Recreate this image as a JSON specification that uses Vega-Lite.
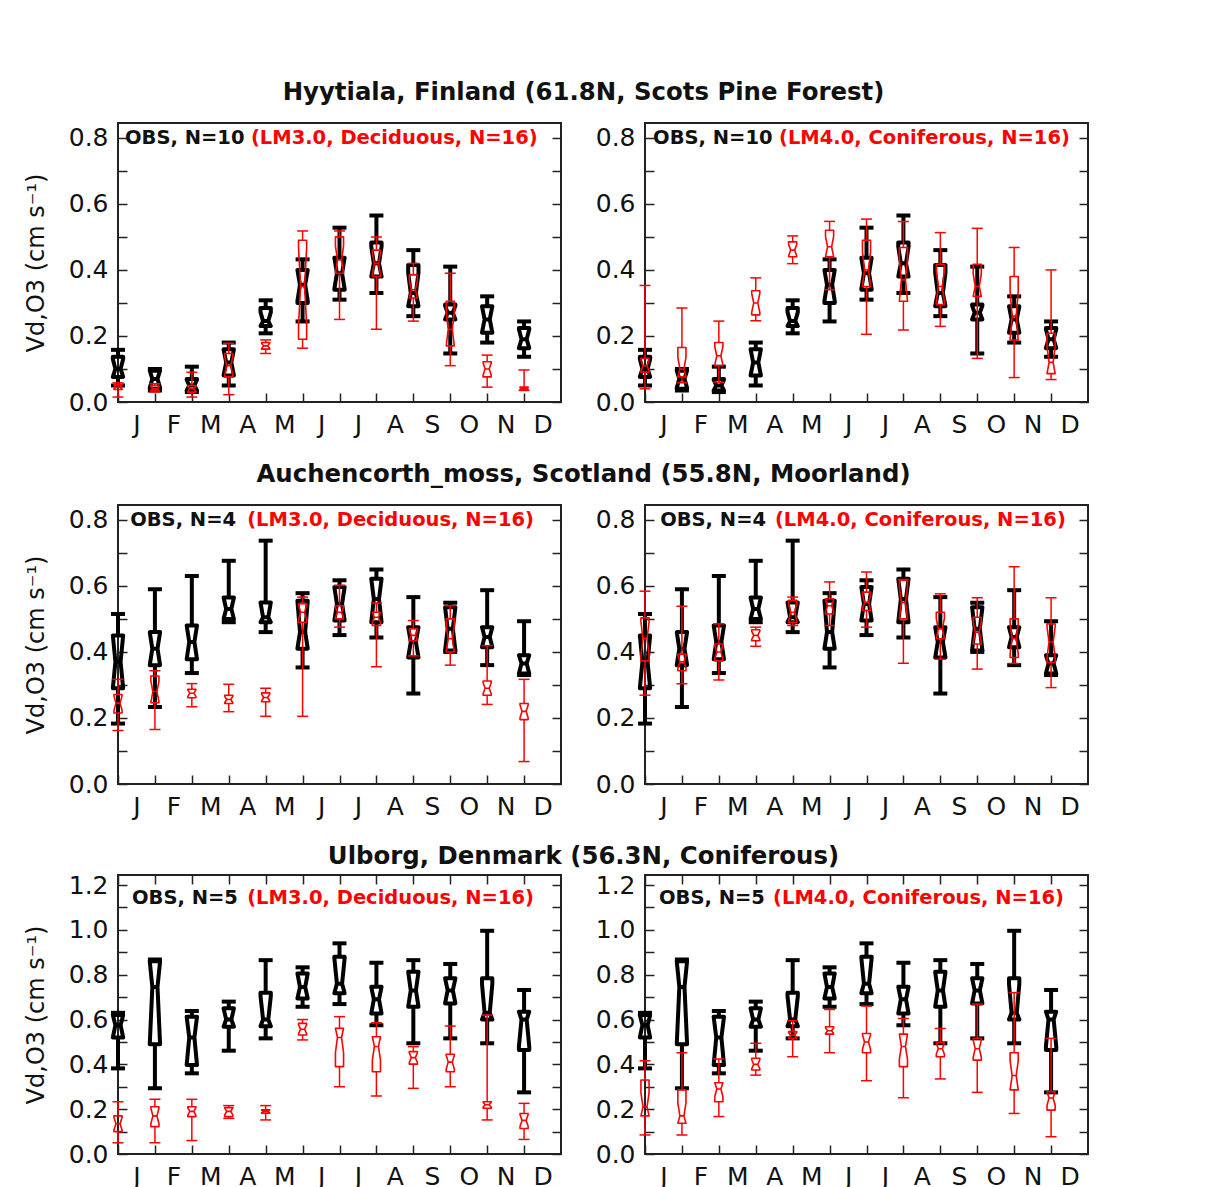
{
  "$schema": "https://vega.github.io/schema/vega-lite/v6.json",
  "padding": {"left": 23, "top": 79, "right": 0, "bottom": 0},
  "background": "white",
  "config": {
    "view": {"stroke": "#222", "strokeWidth": 2},
    "font": "DejaVu Sans",
    "title": {"font": "DejaVu Sans", "fontSize": 24.4, "fontWeight": "bold", "color": "#111", "anchor": "middle", "offset": 17, "dx": 27},
    "tick": {"opacity": 1}
  },
  "datasets": {
    "boxes": [
      {"site": "H", "s": "OBS", "n": 10, "m": 1, "lo": 0.05, "q1": 0.076, "med": 0.10, "q3": 0.137, "hi": 0.158},
      {"site": "H", "s": "OBS", "n": 10, "m": 2, "lo": 0.035, "q1": 0.04, "med": 0.07, "q3": 0.095, "hi": 0.10},
      {"site": "H", "s": "OBS", "n": 10, "m": 3, "lo": 0.03, "q1": 0.035, "med": 0.05, "q3": 0.07, "hi": 0.107},
      {"site": "H", "s": "OBS", "n": 10, "m": 4, "lo": 0.05, "q1": 0.08, "med": 0.12, "q3": 0.16, "hi": 0.18},
      {"site": "H", "s": "OBS", "n": 10, "m": 5, "lo": 0.208, "q1": 0.23, "med": 0.245, "q3": 0.285, "hi": 0.308},
      {"site": "H", "s": "OBS", "n": 10, "m": 6, "lo": 0.244, "q1": 0.30, "med": 0.355, "q3": 0.40, "hi": 0.432},
      {"site": "H", "s": "OBS", "n": 10, "m": 7, "lo": 0.31, "q1": 0.34, "med": 0.39, "q3": 0.437, "hi": 0.528},
      {"site": "H", "s": "OBS", "n": 10, "m": 8, "lo": 0.33, "q1": 0.38, "med": 0.42, "q3": 0.483, "hi": 0.565},
      {"site": "H", "s": "OBS", "n": 10, "m": 9, "lo": 0.26, "q1": 0.29, "med": 0.33, "q3": 0.415, "hi": 0.46},
      {"site": "H", "s": "OBS", "n": 10, "m": 10, "lo": 0.147, "q1": 0.25, "med": 0.27, "q3": 0.295, "hi": 0.41},
      {"site": "H", "s": "OBS", "n": 10, "m": 11, "lo": 0.18, "q1": 0.21, "med": 0.25, "q3": 0.29, "hi": 0.32},
      {"site": "H", "s": "OBS", "n": 10, "m": 12, "lo": 0.137, "q1": 0.163, "med": 0.19, "q3": 0.224, "hi": 0.244},

      {"site": "H", "s": "LM3.0", "n": 16, "m": 1, "lo": 0.015, "q1": 0.038, "med": 0.045, "q3": 0.052, "hi": 0.058},
      {"site": "H", "s": "LM3.0", "n": 16, "m": 2, "lo": 0.03, "q1": 0.035, "med": 0.04, "q3": 0.05, "hi": 0.055},
      {"site": "H", "s": "LM3.0", "n": 16, "m": 3, "lo": 0.015, "q1": 0.03, "med": 0.04, "q3": 0.05, "hi": 0.09},
      {"site": "H", "s": "LM3.0", "n": 16, "m": 4, "lo": 0.022, "q1": 0.076, "med": 0.11, "q3": 0.147, "hi": 0.178},
      {"site": "H", "s": "LM3.0", "n": 16, "m": 5, "lo": 0.147, "q1": 0.16, "med": 0.17, "q3": 0.18, "hi": 0.188},
      {"site": "H", "s": "LM3.0", "n": 16, "m": 6, "lo": 0.163, "q1": 0.19, "med": 0.35, "q3": 0.49, "hi": 0.518},
      {"site": "H", "s": "LM3.0", "n": 16, "m": 7, "lo": 0.25, "q1": 0.39, "med": 0.43, "q3": 0.50, "hi": 0.518},
      {"site": "H", "s": "LM3.0", "n": 16, "m": 8, "lo": 0.22, "q1": 0.38, "med": 0.42, "q3": 0.46, "hi": 0.50},
      {"site": "H", "s": "LM3.0", "n": 16, "m": 9, "lo": 0.245, "q1": 0.315, "med": 0.34, "q3": 0.385, "hi": 0.42},
      {"site": "H", "s": "LM3.0", "n": 16, "m": 10, "lo": 0.11, "q1": 0.17, "med": 0.22, "q3": 0.305, "hi": 0.39},
      {"site": "H", "s": "LM3.0", "n": 16, "m": 11, "lo": 0.045, "q1": 0.076, "med": 0.10, "q3": 0.122, "hi": 0.142},
      {"site": "H", "s": "LM3.0", "n": 16, "m": 12, "lo": 0.035, "q1": 0.037, "med": 0.04, "q3": 0.045, "hi": 0.097},

      {"site": "H", "s": "LM4.0", "n": 16, "m": 1, "lo": 0.04, "q1": 0.09, "med": 0.11, "q3": 0.132, "hi": 0.353},
      {"site": "H", "s": "LM4.0", "n": 16, "m": 2, "lo": 0.058, "q1": 0.076, "med": 0.10, "q3": 0.165, "hi": 0.285},
      {"site": "H", "s": "LM4.0", "n": 16, "m": 3, "lo": 0.06, "q1": 0.11, "med": 0.14, "q3": 0.18, "hi": 0.245},
      {"site": "H", "s": "LM4.0", "n": 16, "m": 4, "lo": 0.246, "q1": 0.264, "med": 0.30, "q3": 0.337, "hi": 0.376},
      {"site": "H", "s": "LM4.0", "n": 16, "m": 5, "lo": 0.419, "q1": 0.44, "med": 0.46, "q3": 0.485, "hi": 0.503},
      {"site": "H", "s": "LM4.0", "n": 16, "m": 6, "lo": 0.34, "q1": 0.44, "med": 0.47, "q3": 0.52, "hi": 0.547},
      {"site": "H", "s": "LM4.0", "n": 16, "m": 7, "lo": 0.205, "q1": 0.35, "med": 0.40, "q3": 0.49, "hi": 0.554},
      {"site": "H", "s": "LM4.0", "n": 16, "m": 8, "lo": 0.218, "q1": 0.305, "med": 0.37, "q3": 0.468, "hi": 0.547},
      {"site": "H", "s": "LM4.0", "n": 16, "m": 9, "lo": 0.229, "q1": 0.295, "med": 0.35, "q3": 0.417, "hi": 0.513},
      {"site": "H", "s": "LM4.0", "n": 16, "m": 10, "lo": 0.132, "q1": 0.32, "med": 0.35, "q3": 0.417, "hi": 0.526},
      {"site": "H", "s": "LM4.0", "n": 16, "m": 11, "lo": 0.074, "q1": 0.188, "med": 0.26, "q3": 0.38, "hi": 0.468},
      {"site": "H", "s": "LM4.0", "n": 16, "m": 12, "lo": 0.068, "q1": 0.086, "med": 0.12, "q3": 0.208, "hi": 0.40},

      {"site": "A", "s": "OBS", "n": 4, "m": 1, "lo": 0.183, "q1": 0.29, "med": 0.37, "q3": 0.45, "hi": 0.515},
      {"site": "A", "s": "OBS", "n": 4, "m": 2, "lo": 0.233, "q1": 0.36, "med": 0.41, "q3": 0.46, "hi": 0.59},
      {"site": "A", "s": "OBS", "n": 4, "m": 3, "lo": 0.336, "q1": 0.378, "med": 0.43, "q3": 0.48, "hi": 0.63},
      {"site": "A", "s": "OBS", "n": 4, "m": 4, "lo": 0.49, "q1": 0.50, "med": 0.53, "q3": 0.565, "hi": 0.676},
      {"site": "A", "s": "OBS", "n": 4, "m": 5, "lo": 0.46, "q1": 0.49, "med": 0.505, "q3": 0.55, "hi": 0.737},
      {"site": "A", "s": "OBS", "n": 4, "m": 6, "lo": 0.353, "q1": 0.41, "med": 0.46, "q3": 0.555, "hi": 0.578},
      {"site": "A", "s": "OBS", "n": 4, "m": 7, "lo": 0.451, "q1": 0.495, "med": 0.545, "q3": 0.597, "hi": 0.617},
      {"site": "A", "s": "OBS", "n": 4, "m": 8, "lo": 0.444, "q1": 0.49, "med": 0.56, "q3": 0.622, "hi": 0.65},
      {"site": "A", "s": "OBS", "n": 4, "m": 9, "lo": 0.274, "q1": 0.383, "med": 0.43, "q3": 0.475, "hi": 0.566},
      {"site": "A", "s": "OBS", "n": 4, "m": 10, "lo": 0.40, "q1": 0.404, "med": 0.47, "q3": 0.535, "hi": 0.549},
      {"site": "A", "s": "OBS", "n": 4, "m": 11, "lo": 0.36, "q1": 0.414, "med": 0.445, "q3": 0.475, "hi": 0.587},
      {"site": "A", "s": "OBS", "n": 4, "m": 12, "lo": 0.33, "q1": 0.335, "med": 0.365, "q3": 0.39, "hi": 0.493},

      {"site": "A", "s": "LM3.0", "n": 16, "m": 1, "lo": 0.162, "q1": 0.215, "med": 0.245, "q3": 0.271, "hi": 0.317},
      {"site": "A", "s": "LM3.0", "n": 16, "m": 2, "lo": 0.165, "q1": 0.246, "med": 0.28, "q3": 0.327, "hi": 0.343},
      {"site": "A", "s": "LM3.0", "n": 16, "m": 3, "lo": 0.234, "q1": 0.261, "med": 0.275, "q3": 0.287, "hi": 0.304},
      {"site": "A", "s": "LM3.0", "n": 16, "m": 4, "lo": 0.219, "q1": 0.244, "med": 0.256, "q3": 0.269, "hi": 0.302},
      {"site": "A", "s": "LM3.0", "n": 16, "m": 5, "lo": 0.205, "q1": 0.249, "med": 0.262, "q3": 0.276, "hi": 0.29},
      {"site": "A", "s": "LM3.0", "n": 16, "m": 6, "lo": 0.205, "q1": 0.49, "med": 0.52, "q3": 0.546, "hi": 0.566},
      {"site": "A", "s": "LM3.0", "n": 16, "m": 7, "lo": 0.475, "q1": 0.50, "med": 0.52, "q3": 0.54, "hi": 0.602},
      {"site": "A", "s": "LM3.0", "n": 16, "m": 8, "lo": 0.355, "q1": 0.48, "med": 0.505, "q3": 0.52, "hi": 0.548},
      {"site": "A", "s": "LM3.0", "n": 16, "m": 9, "lo": 0.388, "q1": 0.434, "med": 0.45, "q3": 0.47, "hi": 0.495},
      {"site": "A", "s": "LM3.0", "n": 16, "m": 10, "lo": 0.36, "q1": 0.40, "med": 0.44, "q3": 0.50, "hi": 0.54},
      {"site": "A", "s": "LM3.0", "n": 16, "m": 11, "lo": 0.241, "q1": 0.269, "med": 0.29, "q3": 0.312, "hi": 0.419},
      {"site": "A", "s": "LM3.0", "n": 16, "m": 12, "lo": 0.068, "q1": 0.195, "med": 0.22, "q3": 0.244, "hi": 0.317},

      {"site": "A", "s": "LM4.0", "n": 16, "m": 1, "lo": 0.269, "q1": 0.373, "med": 0.44, "q3": 0.503, "hi": 0.584},
      {"site": "A", "s": "LM4.0", "n": 16, "m": 2, "lo": 0.304, "q1": 0.343, "med": 0.37, "q3": 0.393, "hi": 0.538},
      {"site": "A", "s": "LM4.0", "n": 16, "m": 3, "lo": 0.315, "q1": 0.373, "med": 0.40, "q3": 0.424, "hi": 0.485},
      {"site": "A", "s": "LM4.0", "n": 16, "m": 4, "lo": 0.417, "q1": 0.434, "med": 0.45, "q3": 0.467, "hi": 0.475},
      {"site": "A", "s": "LM4.0", "n": 16, "m": 5, "lo": 0.48, "q1": 0.49, "med": 0.52, "q3": 0.556, "hi": 0.566},
      {"site": "A", "s": "LM4.0", "n": 16, "m": 6, "lo": 0.48, "q1": 0.515, "med": 0.54, "q3": 0.561, "hi": 0.612},
      {"site": "A", "s": "LM4.0", "n": 16, "m": 7, "lo": 0.475, "q1": 0.526, "med": 0.55, "q3": 0.581, "hi": 0.642},
      {"site": "A", "s": "LM4.0", "n": 16, "m": 8, "lo": 0.366, "q1": 0.50, "med": 0.55, "q3": 0.617, "hi": 0.619},
      {"site": "A", "s": "LM4.0", "n": 16, "m": 9, "lo": 0.378, "q1": 0.44, "med": 0.47, "q3": 0.52, "hi": 0.576},
      {"site": "A", "s": "LM4.0", "n": 16, "m": 10, "lo": 0.348, "q1": 0.424, "med": 0.46, "q3": 0.505, "hi": 0.564},
      {"site": "A", "s": "LM4.0", "n": 16, "m": 11, "lo": 0.365, "q1": 0.383, "med": 0.44, "q3": 0.50, "hi": 0.658},
      {"site": "A", "s": "LM4.0", "n": 16, "m": 12, "lo": 0.292, "q1": 0.368, "med": 0.43, "q3": 0.485, "hi": 0.564},

      {"site": "U", "s": "OBS", "n": 5, "m": 1, "lo": 0.382, "q1": 0.52, "med": 0.575, "q3": 0.62, "hi": 0.63},
      {"site": "U", "s": "OBS", "n": 5, "m": 2, "lo": 0.293, "q1": 0.49, "med": 0.745, "q3": 0.86, "hi": 0.868},
      {"site": "U", "s": "OBS", "n": 5, "m": 3, "lo": 0.36, "q1": 0.397, "med": 0.52, "q3": 0.613, "hi": 0.638},
      {"site": "U", "s": "OBS", "n": 5, "m": 4, "lo": 0.461, "q1": 0.568, "med": 0.60, "q3": 0.65, "hi": 0.68},
      {"site": "U", "s": "OBS", "n": 5, "m": 5, "lo": 0.516, "q1": 0.57, "med": 0.60, "q3": 0.72, "hi": 0.865},
      {"site": "U", "s": "OBS", "n": 5, "m": 6, "lo": 0.657, "q1": 0.694, "med": 0.745, "q3": 0.806, "hi": 0.833},
      {"site": "U", "s": "OBS", "n": 5, "m": 7, "lo": 0.669, "q1": 0.717, "med": 0.76, "q3": 0.88, "hi": 0.94},
      {"site": "U", "s": "OBS", "n": 5, "m": 8, "lo": 0.575, "q1": 0.627, "med": 0.69, "q3": 0.746, "hi": 0.853},
      {"site": "U", "s": "OBS", "n": 5, "m": 9, "lo": 0.494, "q1": 0.657, "med": 0.73, "q3": 0.813, "hi": 0.865},
      {"site": "U", "s": "OBS", "n": 5, "m": 10, "lo": 0.516, "q1": 0.672, "med": 0.73, "q3": 0.784, "hi": 0.848},
      {"site": "U", "s": "OBS", "n": 5, "m": 11, "lo": 0.494, "q1": 0.60, "med": 0.63, "q3": 0.784, "hi": 0.996},
      {"site": "U", "s": "OBS", "n": 5, "m": 12, "lo": 0.275, "q1": 0.464, "med": 0.60, "q3": 0.635, "hi": 0.732},

      {"site": "U", "s": "LM3.0", "n": 16, "m": 1, "lo": 0.05, "q1": 0.10, "med": 0.135, "q3": 0.17, "hi": 0.233},
      {"site": "U", "s": "LM3.0", "n": 16, "m": 2, "lo": 0.05, "q1": 0.122, "med": 0.17, "q3": 0.211, "hi": 0.244},
      {"site": "U", "s": "LM3.0", "n": 16, "m": 3, "lo": 0.06, "q1": 0.167, "med": 0.19, "q3": 0.211, "hi": 0.244},
      {"site": "U", "s": "LM3.0", "n": 16, "m": 4, "lo": 0.159, "q1": 0.167, "med": 0.19, "q3": 0.207, "hi": 0.216},
      {"site": "U", "s": "LM3.0", "n": 16, "m": 5, "lo": 0.152, "q1": 0.182, "med": 0.19, "q3": 0.197, "hi": 0.216},
      {"site": "U", "s": "LM3.0", "n": 16, "m": 6, "lo": 0.509, "q1": 0.531, "med": 0.557, "q3": 0.583, "hi": 0.60},
      {"site": "U", "s": "LM3.0", "n": 16, "m": 7, "lo": 0.30, "q1": 0.39, "med": 0.52, "q3": 0.561, "hi": 0.613},
      {"site": "U", "s": "LM3.0", "n": 16, "m": 8, "lo": 0.259, "q1": 0.367, "med": 0.48, "q3": 0.523, "hi": 0.586},
      {"site": "U", "s": "LM3.0", "n": 16, "m": 9, "lo": 0.293, "q1": 0.401, "med": 0.43, "q3": 0.457, "hi": 0.479},
      {"site": "U", "s": "LM3.0", "n": 16, "m": 10, "lo": 0.30, "q1": 0.367, "med": 0.41, "q3": 0.445, "hi": 0.571},
      {"site": "U", "s": "LM3.0", "n": 16, "m": 11, "lo": 0.152, "q1": 0.204, "med": 0.22, "q3": 0.233, "hi": 0.62},
      {"site": "U", "s": "LM3.0", "n": 16, "m": 12, "lo": 0.065, "q1": 0.114, "med": 0.15, "q3": 0.181, "hi": 0.226},

      {"site": "U", "s": "LM4.0", "n": 16, "m": 1, "lo": 0.085, "q1": 0.17, "med": 0.21, "q3": 0.33, "hi": 0.416},
      {"site": "U", "s": "LM4.0", "n": 16, "m": 2, "lo": 0.085, "q1": 0.137, "med": 0.17, "q3": 0.286, "hi": 0.452},
      {"site": "U", "s": "LM4.0", "n": 16, "m": 3, "lo": 0.167, "q1": 0.233, "med": 0.29, "q3": 0.318, "hi": 0.424},
      {"site": "U", "s": "LM4.0", "n": 16, "m": 4, "lo": 0.352, "q1": 0.375, "med": 0.40, "q3": 0.427, "hi": 0.494},
      {"site": "U", "s": "LM4.0", "n": 16, "m": 5, "lo": 0.434, "q1": 0.516, "med": 0.53, "q3": 0.546, "hi": 0.595},
      {"site": "U", "s": "LM4.0", "n": 16, "m": 6, "lo": 0.452, "q1": 0.535, "med": 0.55, "q3": 0.568, "hi": 0.645},
      {"site": "U", "s": "LM4.0", "n": 16, "m": 7, "lo": 0.327, "q1": 0.452, "med": 0.50, "q3": 0.538, "hi": 0.66},
      {"site": "U", "s": "LM4.0", "n": 16, "m": 8, "lo": 0.251, "q1": 0.39, "med": 0.48, "q3": 0.535, "hi": 0.605},
      {"site": "U", "s": "LM4.0", "n": 16, "m": 9, "lo": 0.335, "q1": 0.434, "med": 0.47, "q3": 0.497, "hi": 0.56},
      {"site": "U", "s": "LM4.0", "n": 16, "m": 10, "lo": 0.275, "q1": 0.419, "med": 0.47, "q3": 0.516, "hi": 0.669},
      {"site": "U", "s": "LM4.0", "n": 16, "m": 11, "lo": 0.181, "q1": 0.286, "med": 0.35, "q3": 0.452, "hi": 0.72},
      {"site": "U", "s": "LM4.0", "n": 16, "m": 12, "lo": 0.077, "q1": 0.196, "med": 0.25, "q3": 0.278, "hi": 0.516}
    ]
  },
  "spacing": 23,
  "vconcat": [
    {
      "title": {"text": "Hyytiala, Finland (61.8N, Scots Pine Forest)"},
      "spacing": 31,
      "hconcat": [
        {
          "width": 443, "height": 279,
          "data": {"name": "boxes"},
          "layer": [
            {"transform": [{"filter": "datum.site=='H' && datum.s=='OBS'"}],
             "mark": {"type": "rule", "color": "#000", "strokeWidth": 4},
             "encoding": {
               "x": {"field": "m", "type": "quantitative", "scale": {"domain": [1, 13], "nice": false, "zero": false},
                     "axis": {"orient": "bottom", "values": [1,2,3,4,5,6,7,8,9,10,11,12], "tickSize": -9, "tickWidth": 1.5, "tickColor": "#222", "domain": false, "grid": false, "labelExpr": "['J','F','M','A','M','J','J','A','S','O','N','D'][datum.value-1]", "labelOffset": 18.5, "labelPadding": 19, "labelFlush": false, "labelBound": false, "labelOverlap": false, "labelFontSize": 25, "labelFont": "DejaVu Sans", "labelColor": "#111", "title": null}},
               "y": {"field": "lo", "type": "quantitative", "scale": {"domain": [0, 0.845], "nice": false, "zero": false},
                     "axis": {"orient": "left", "values": [0,0.1,0.2,0.3,0.4,0.5,0.6,0.7,0.8], "tickSize": -9, "tickWidth": 1.5, "tickColor": "#222", "domain": false, "grid": false, "labelExpr": "round(datum.value*10)%2==0 ? format(datum.value,'.1f') : ''", "labelOverlap": false, "labelFlush": false, "labelPadding": 19, "labelFontSize": 25, "labelFont": "DejaVu Sans", "labelColor": "#111", "title": "Vd,O3 (cm s⁻¹)", "titleFont": "DejaVu Sans", "titleFontSize": 24, "titleFontWeight": "normal", "titleColor": "#111", "titlePadding": 20}},
               "y2": {"field": "q1"}}},
            {"transform": [{"filter": "datum.site=='H' && datum.s=='OBS'"}],
             "mark": {"type": "rule", "color": "#000", "strokeWidth": 4},
             "encoding": {
               "x": {"field": "m", "type": "quantitative", "scale": {"domain": [1, 13], "nice": false, "zero": false}, "axis": null},
               "y": {"field": "q3", "type": "quantitative", "scale": {"domain": [0, 0.845], "nice": false, "zero": false},
                     "axis": {"orient": "right", "values": [0,0.1,0.2,0.3,0.4,0.5,0.6,0.7,0.8], "tickSize": -9, "tickWidth": 1.5, "tickColor": "#222", "domain": false, "grid": false, "labels": false, "title": null}},
               "y2": {"field": "hi"}}},
            {"transform": [{"filter": "datum.site=='H' && datum.s=='OBS'"}, {"fold": ["lo", "hi"], "as": ["end", "cap"]}],
             "mark": {"type": "tick", "orient": "horizontal", "color": "#000", "size": 14, "thickness": 4},
             "encoding": {
               "x": {"field": "m", "type": "quantitative", "scale": {"domain": [1, 13], "nice": false, "zero": false}, "axis": null},
               "y": {"field": "cap", "type": "quantitative", "scale": {"domain": [0, 0.845], "nice": false, "zero": false}, "axis": null}}},
            {"transform": [{"filter": "datum.site=='H' && datum.s=='OBS'"},
                           {"calculate": "1.57*(datum.q3-datum.q1)/sqrt(datum.n)", "as": "nh"},
                           {"calculate": "max(datum.q1, datum.med-datum.nh)", "as": "nlo"},
                           {"calculate": "min(datum.q3, datum.med+datum.nh)", "as": "nhi"},
                           {"calculate": "[datum.q1, datum.nlo, datum.med, datum.nhi, datum.q3, datum.q3, datum.nhi, datum.med, datum.nlo, datum.q1, datum.q1, datum.nlo, datum.med, datum.med]", "as": "vy"},
                           {"calculate": "[0,1,2,3,4,5,6,7,8,9,10,11,12,13]", "as": "vi"},
                           {"flatten": ["vy", "vi"]},
                           {"calculate": "datum.m + 0.14*[-1,-1,-0.5,-1,-1,1,1,0.5,1,1,-1,-1,-0.5,0.5][datum.vi]", "as": "vx"}],
             "mark": {"type": "line", "color": "#000", "strokeWidth": 4, "strokeJoin": "round"},
             "encoding": {
               "x": {"field": "vx", "type": "quantitative", "scale": {"domain": [1, 13], "nice": false, "zero": false}, "axis": null},
               "y": {"field": "vy", "type": "quantitative", "scale": {"domain": [0, 0.845], "nice": false, "zero": false}, "axis": null},
               "detail": {"field": "m", "type": "nominal"},
               "order": {"field": "vi", "type": "quantitative"}}},
            {"transform": [{"filter": "datum.site=='H' && datum.s=='LM3.0'"}],
             "mark": {"type": "rule", "color": "#ff0000", "strokeWidth": 1.5},
             "encoding": {
               "x": {"field": "m", "type": "quantitative", "scale": {"domain": [1, 13], "nice": false, "zero": false}, "axis": null},
               "y": {"field": "lo", "type": "quantitative", "scale": {"domain": [0, 0.845], "nice": false, "zero": false}, "axis": null},
               "y2": {"field": "q1"}}},
            {"transform": [{"filter": "datum.site=='H' && datum.s=='LM3.0'"}],
             "mark": {"type": "rule", "color": "#ff0000", "strokeWidth": 1.5},
             "encoding": {
               "x": {"field": "m", "type": "quantitative", "scale": {"domain": [1, 13], "nice": false, "zero": false}, "axis": null},
               "y": {"field": "q3", "type": "quantitative", "scale": {"domain": [0, 0.845], "nice": false, "zero": false}, "axis": null},
               "y2": {"field": "hi"}}},
            {"transform": [{"filter": "datum.site=='H' && datum.s=='LM3.0'"}, {"fold": ["lo", "hi"], "as": ["end", "cap"]}],
             "mark": {"type": "tick", "orient": "horizontal", "color": "#ff0000", "size": 11, "thickness": 1.5},
             "encoding": {
               "x": {"field": "m", "type": "quantitative", "scale": {"domain": [1, 13], "nice": false, "zero": false}, "axis": null},
               "y": {"field": "cap", "type": "quantitative", "scale": {"domain": [0, 0.845], "nice": false, "zero": false}, "axis": null}}},
            {"transform": [{"filter": "datum.site=='H' && datum.s=='LM3.0'"},
                           {"calculate": "1.57*(datum.q3-datum.q1)/sqrt(datum.n)", "as": "nh"},
                           {"calculate": "max(datum.q1, datum.med-datum.nh)", "as": "nlo"},
                           {"calculate": "min(datum.q3, datum.med+datum.nh)", "as": "nhi"},
                           {"calculate": "[datum.q1, datum.nlo, datum.med, datum.nhi, datum.q3, datum.q3, datum.nhi, datum.med, datum.nlo, datum.q1, datum.q1, datum.nlo, datum.med, datum.med]", "as": "vy"},
                           {"calculate": "[0,1,2,3,4,5,6,7,8,9,10,11,12,13]", "as": "vi"},
                           {"flatten": ["vy", "vi"]},
                           {"calculate": "datum.m + 0.11*[-1,-1,-0.5,-1,-1,1,1,0.5,1,1,-1,-1,-0.5,0.5][datum.vi]", "as": "vx"}],
             "mark": {"type": "line", "color": "#ff0000", "strokeWidth": 1.6, "strokeJoin": "round"},
             "encoding": {
               "x": {"field": "vx", "type": "quantitative", "scale": {"domain": [1, 13], "nice": false, "zero": false}, "axis": null},
               "y": {"field": "vy", "type": "quantitative", "scale": {"domain": [0, 0.845], "nice": false, "zero": false}, "axis": null},
               "detail": {"field": "m", "type": "nominal"},
               "order": {"field": "vi", "type": "quantitative"}}},
            {"data": {"values": [{}]},
             "mark": {"type": "text", "text": "OBS, N=10", "align": "left", "baseline": "middle", "font": "DejaVu Sans", "fontWeight": "bold", "fontSize": 19.5, "color": "#111"},
             "encoding": {
               "x": {"datum": 1.19, "type": "quantitative", "scale": {"domain": [1, 13], "nice": false, "zero": false}, "axis": null},
               "y": {"datum": 0.8, "type": "quantitative", "scale": {"domain": [0, 0.845], "nice": false, "zero": false}, "axis": null}}},
            {"data": {"values": [{}]},
             "mark": {"type": "text", "text": "(LM3.0, Deciduous, N=16)", "align": "left", "baseline": "middle", "font": "DejaVu Sans", "fontWeight": "bold", "fontSize": 19.5, "color": "#ff0000"},
             "encoding": {
               "x": {"datum": 4.6, "type": "quantitative", "scale": {"domain": [1, 13], "nice": false, "zero": false}, "axis": null},
               "y": {"datum": 0.8, "type": "quantitative", "scale": {"domain": [0, 0.845], "nice": false, "zero": false}, "axis": null}}}
          ],
          "resolve": {"axis": {"x": "independent", "y": "independent"}}
        },
        {
          "width": 443, "height": 279,
          "data": {"name": "boxes"},
          "layer": [
            {"transform": [{"filter": "datum.site=='H' && datum.s=='OBS'"}],
             "mark": {"type": "rule", "color": "#000", "strokeWidth": 4},
             "encoding": {
               "x": {"field": "m", "type": "quantitative", "scale": {"domain": [1, 13], "nice": false, "zero": false},
                     "axis": {"orient": "bottom", "values": [1,2,3,4,5,6,7,8,9,10,11,12], "tickSize": -9, "tickWidth": 1.5, "tickColor": "#222", "domain": false, "grid": false, "labelExpr": "['J','F','M','A','M','J','J','A','S','O','N','D'][datum.value-1]", "labelOffset": 18.5, "labelPadding": 19, "labelFlush": false, "labelBound": false, "labelOverlap": false, "labelFontSize": 25, "labelFont": "DejaVu Sans", "labelColor": "#111", "title": null}},
               "y": {"field": "lo", "type": "quantitative", "scale": {"domain": [0, 0.845], "nice": false, "zero": false},
                     "axis": {"orient": "left", "values": [0,0.1,0.2,0.3,0.4,0.5,0.6,0.7,0.8], "tickSize": -9, "tickWidth": 1.5, "tickColor": "#222", "domain": false, "grid": false, "labelExpr": "round(datum.value*10)%2==0 ? format(datum.value,'.1f') : ''", "labelOverlap": false, "labelFlush": false, "labelPadding": 19, "labelFontSize": 25, "labelFont": "DejaVu Sans", "labelColor": "#111", "title": null}},
               "y2": {"field": "q1"}}},
            {"transform": [{"filter": "datum.site=='H' && datum.s=='OBS'"}],
             "mark": {"type": "rule", "color": "#000", "strokeWidth": 4},
             "encoding": {
               "x": {"field": "m", "type": "quantitative", "scale": {"domain": [1, 13], "nice": false, "zero": false}, "axis": null},
               "y": {"field": "q3", "type": "quantitative", "scale": {"domain": [0, 0.845], "nice": false, "zero": false},
                     "axis": {"orient": "right", "values": [0,0.1,0.2,0.3,0.4,0.5,0.6,0.7,0.8], "tickSize": -9, "tickWidth": 1.5, "tickColor": "#222", "domain": false, "grid": false, "labels": false, "title": null}},
               "y2": {"field": "hi"}}},
            {"transform": [{"filter": "datum.site=='H' && datum.s=='OBS'"}, {"fold": ["lo", "hi"], "as": ["end", "cap"]}],
             "mark": {"type": "tick", "orient": "horizontal", "color": "#000", "size": 14, "thickness": 4},
             "encoding": {
               "x": {"field": "m", "type": "quantitative", "scale": {"domain": [1, 13], "nice": false, "zero": false}, "axis": null},
               "y": {"field": "cap", "type": "quantitative", "scale": {"domain": [0, 0.845], "nice": false, "zero": false}, "axis": null}}},
            {"transform": [{"filter": "datum.site=='H' && datum.s=='OBS'"},
                           {"calculate": "1.57*(datum.q3-datum.q1)/sqrt(datum.n)", "as": "nh"},
                           {"calculate": "max(datum.q1, datum.med-datum.nh)", "as": "nlo"},
                           {"calculate": "min(datum.q3, datum.med+datum.nh)", "as": "nhi"},
                           {"calculate": "[datum.q1, datum.nlo, datum.med, datum.nhi, datum.q3, datum.q3, datum.nhi, datum.med, datum.nlo, datum.q1, datum.q1, datum.nlo, datum.med, datum.med]", "as": "vy"},
                           {"calculate": "[0,1,2,3,4,5,6,7,8,9,10,11,12,13]", "as": "vi"},
                           {"flatten": ["vy", "vi"]},
                           {"calculate": "datum.m + 0.14*[-1,-1,-0.5,-1,-1,1,1,0.5,1,1,-1,-1,-0.5,0.5][datum.vi]", "as": "vx"}],
             "mark": {"type": "line", "color": "#000", "strokeWidth": 4, "strokeJoin": "round"},
             "encoding": {
               "x": {"field": "vx", "type": "quantitative", "scale": {"domain": [1, 13], "nice": false, "zero": false}, "axis": null},
               "y": {"field": "vy", "type": "quantitative", "scale": {"domain": [0, 0.845], "nice": false, "zero": false}, "axis": null},
               "detail": {"field": "m", "type": "nominal"},
               "order": {"field": "vi", "type": "quantitative"}}},
            {"transform": [{"filter": "datum.site=='H' && datum.s=='LM4.0'"}],
             "mark": {"type": "rule", "color": "#ff0000", "strokeWidth": 1.5},
             "encoding": {
               "x": {"field": "m", "type": "quantitative", "scale": {"domain": [1, 13], "nice": false, "zero": false}, "axis": null},
               "y": {"field": "lo", "type": "quantitative", "scale": {"domain": [0, 0.845], "nice": false, "zero": false}, "axis": null},
               "y2": {"field": "q1"}}},
            {"transform": [{"filter": "datum.site=='H' && datum.s=='LM4.0'"}],
             "mark": {"type": "rule", "color": "#ff0000", "strokeWidth": 1.5},
             "encoding": {
               "x": {"field": "m", "type": "quantitative", "scale": {"domain": [1, 13], "nice": false, "zero": false}, "axis": null},
               "y": {"field": "q3", "type": "quantitative", "scale": {"domain": [0, 0.845], "nice": false, "zero": false}, "axis": null},
               "y2": {"field": "hi"}}},
            {"transform": [{"filter": "datum.site=='H' && datum.s=='LM4.0'"}, {"fold": ["lo", "hi"], "as": ["end", "cap"]}],
             "mark": {"type": "tick", "orient": "horizontal", "color": "#ff0000", "size": 11, "thickness": 1.5},
             "encoding": {
               "x": {"field": "m", "type": "quantitative", "scale": {"domain": [1, 13], "nice": false, "zero": false}, "axis": null},
               "y": {"field": "cap", "type": "quantitative", "scale": {"domain": [0, 0.845], "nice": false, "zero": false}, "axis": null}}},
            {"transform": [{"filter": "datum.site=='H' && datum.s=='LM4.0'"},
                           {"calculate": "1.57*(datum.q3-datum.q1)/sqrt(datum.n)", "as": "nh"},
                           {"calculate": "max(datum.q1, datum.med-datum.nh)", "as": "nlo"},
                           {"calculate": "min(datum.q3, datum.med+datum.nh)", "as": "nhi"},
                           {"calculate": "[datum.q1, datum.nlo, datum.med, datum.nhi, datum.q3, datum.q3, datum.nhi, datum.med, datum.nlo, datum.q1, datum.q1, datum.nlo, datum.med, datum.med]", "as": "vy"},
                           {"calculate": "[0,1,2,3,4,5,6,7,8,9,10,11,12,13]", "as": "vi"},
                           {"flatten": ["vy", "vi"]},
                           {"calculate": "datum.m + 0.11*[-1,-1,-0.5,-1,-1,1,1,0.5,1,1,-1,-1,-0.5,0.5][datum.vi]", "as": "vx"}],
             "mark": {"type": "line", "color": "#ff0000", "strokeWidth": 1.6, "strokeJoin": "round"},
             "encoding": {
               "x": {"field": "vx", "type": "quantitative", "scale": {"domain": [1, 13], "nice": false, "zero": false}, "axis": null},
               "y": {"field": "vy", "type": "quantitative", "scale": {"domain": [0, 0.845], "nice": false, "zero": false}, "axis": null},
               "detail": {"field": "m", "type": "nominal"},
               "order": {"field": "vi", "type": "quantitative"}}},
            {"data": {"values": [{}]},
             "mark": {"type": "text", "text": "OBS, N=10", "align": "left", "baseline": "middle", "font": "DejaVu Sans", "fontWeight": "bold", "fontSize": 19.5, "color": "#111"},
             "encoding": {
               "x": {"datum": 1.22, "type": "quantitative", "scale": {"domain": [1, 13], "nice": false, "zero": false}, "axis": null},
               "y": {"datum": 0.8, "type": "quantitative", "scale": {"domain": [0, 0.845], "nice": false, "zero": false}, "axis": null}}},
            {"data": {"values": [{}]},
             "mark": {"type": "text", "text": "(LM4.0, Coniferous, N=16)", "align": "left", "baseline": "middle", "font": "DejaVu Sans", "fontWeight": "bold", "fontSize": 19.5, "color": "#ff0000"},
             "encoding": {
               "x": {"datum": 4.63, "type": "quantitative", "scale": {"domain": [1, 13], "nice": false, "zero": false}, "axis": null},
               "y": {"datum": 0.8, "type": "quantitative", "scale": {"domain": [0, 0.845], "nice": false, "zero": false}, "axis": null}}}
          ],
          "resolve": {"axis": {"x": "independent", "y": "independent"}}
        }
      ]
    },
    {
      "title": {"text": "Auchencorth_moss, Scotland (55.8N, Moorland)"},
      "spacing": 31,
      "hconcat": [
        {
          "width": 443, "height": 279,
          "data": {"name": "boxes"},
          "layer": [
            {"transform": [{"filter": "datum.site=='A' && datum.s=='OBS'"}],
             "mark": {"type": "rule", "color": "#000", "strokeWidth": 4},
             "encoding": {
               "x": {"field": "m", "type": "quantitative", "scale": {"domain": [1, 13], "nice": false, "zero": false},
                     "axis": {"orient": "bottom", "values": [1,2,3,4,5,6,7,8,9,10,11,12], "tickSize": -9, "tickWidth": 1.5, "tickColor": "#222", "domain": false, "grid": false, "labelExpr": "['J','F','M','A','M','J','J','A','S','O','N','D'][datum.value-1]", "labelOffset": 18.5, "labelPadding": 19, "labelFlush": false, "labelBound": false, "labelOverlap": false, "labelFontSize": 25, "labelFont": "DejaVu Sans", "labelColor": "#111", "title": null}},
               "y": {"field": "lo", "type": "quantitative", "scale": {"domain": [0, 0.845], "nice": false, "zero": false},
                     "axis": {"orient": "left", "values": [0,0.1,0.2,0.3,0.4,0.5,0.6,0.7,0.8], "tickSize": -9, "tickWidth": 1.5, "tickColor": "#222", "domain": false, "grid": false, "labelExpr": "round(datum.value*10)%2==0 ? format(datum.value,'.1f') : ''", "labelOverlap": false, "labelFlush": false, "labelPadding": 19, "labelFontSize": 25, "labelFont": "DejaVu Sans", "labelColor": "#111", "title": "Vd,O3 (cm s⁻¹)", "titleFont": "DejaVu Sans", "titleFontSize": 24, "titleFontWeight": "normal", "titleColor": "#111", "titlePadding": 20}},
               "y2": {"field": "q1"}}},
            {"transform": [{"filter": "datum.site=='A' && datum.s=='OBS'"}],
             "mark": {"type": "rule", "color": "#000", "strokeWidth": 4},
             "encoding": {
               "x": {"field": "m", "type": "quantitative", "scale": {"domain": [1, 13], "nice": false, "zero": false}, "axis": null},
               "y": {"field": "q3", "type": "quantitative", "scale": {"domain": [0, 0.845], "nice": false, "zero": false},
                     "axis": {"orient": "right", "values": [0,0.1,0.2,0.3,0.4,0.5,0.6,0.7,0.8], "tickSize": -9, "tickWidth": 1.5, "tickColor": "#222", "domain": false, "grid": false, "labels": false, "title": null}},
               "y2": {"field": "hi"}}},
            {"transform": [{"filter": "datum.site=='A' && datum.s=='OBS'"}, {"fold": ["lo", "hi"], "as": ["end", "cap"]}],
             "mark": {"type": "tick", "orient": "horizontal", "color": "#000", "size": 14, "thickness": 4},
             "encoding": {
               "x": {"field": "m", "type": "quantitative", "scale": {"domain": [1, 13], "nice": false, "zero": false}, "axis": null},
               "y": {"field": "cap", "type": "quantitative", "scale": {"domain": [0, 0.845], "nice": false, "zero": false}, "axis": null}}},
            {"transform": [{"filter": "datum.site=='A' && datum.s=='OBS'"},
                           {"calculate": "1.57*(datum.q3-datum.q1)/sqrt(datum.n)", "as": "nh"},
                           {"calculate": "max(datum.q1, datum.med-datum.nh)", "as": "nlo"},
                           {"calculate": "min(datum.q3, datum.med+datum.nh)", "as": "nhi"},
                           {"calculate": "[datum.q1, datum.nlo, datum.med, datum.nhi, datum.q3, datum.q3, datum.nhi, datum.med, datum.nlo, datum.q1, datum.q1, datum.nlo, datum.med, datum.med]", "as": "vy"},
                           {"calculate": "[0,1,2,3,4,5,6,7,8,9,10,11,12,13]", "as": "vi"},
                           {"flatten": ["vy", "vi"]},
                           {"calculate": "datum.m + 0.14*[-1,-1,-0.5,-1,-1,1,1,0.5,1,1,-1,-1,-0.5,0.5][datum.vi]", "as": "vx"}],
             "mark": {"type": "line", "color": "#000", "strokeWidth": 4, "strokeJoin": "round"},
             "encoding": {
               "x": {"field": "vx", "type": "quantitative", "scale": {"domain": [1, 13], "nice": false, "zero": false}, "axis": null},
               "y": {"field": "vy", "type": "quantitative", "scale": {"domain": [0, 0.845], "nice": false, "zero": false}, "axis": null},
               "detail": {"field": "m", "type": "nominal"},
               "order": {"field": "vi", "type": "quantitative"}}},
            {"transform": [{"filter": "datum.site=='A' && datum.s=='LM3.0'"}],
             "mark": {"type": "rule", "color": "#ff0000", "strokeWidth": 1.5},
             "encoding": {
               "x": {"field": "m", "type": "quantitative", "scale": {"domain": [1, 13], "nice": false, "zero": false}, "axis": null},
               "y": {"field": "lo", "type": "quantitative", "scale": {"domain": [0, 0.845], "nice": false, "zero": false}, "axis": null},
               "y2": {"field": "q1"}}},
            {"transform": [{"filter": "datum.site=='A' && datum.s=='LM3.0'"}],
             "mark": {"type": "rule", "color": "#ff0000", "strokeWidth": 1.5},
             "encoding": {
               "x": {"field": "m", "type": "quantitative", "scale": {"domain": [1, 13], "nice": false, "zero": false}, "axis": null},
               "y": {"field": "q3", "type": "quantitative", "scale": {"domain": [0, 0.845], "nice": false, "zero": false}, "axis": null},
               "y2": {"field": "hi"}}},
            {"transform": [{"filter": "datum.site=='A' && datum.s=='LM3.0'"}, {"fold": ["lo", "hi"], "as": ["end", "cap"]}],
             "mark": {"type": "tick", "orient": "horizontal", "color": "#ff0000", "size": 11, "thickness": 1.5},
             "encoding": {
               "x": {"field": "m", "type": "quantitative", "scale": {"domain": [1, 13], "nice": false, "zero": false}, "axis": null},
               "y": {"field": "cap", "type": "quantitative", "scale": {"domain": [0, 0.845], "nice": false, "zero": false}, "axis": null}}},
            {"transform": [{"filter": "datum.site=='A' && datum.s=='LM3.0'"},
                           {"calculate": "1.57*(datum.q3-datum.q1)/sqrt(datum.n)", "as": "nh"},
                           {"calculate": "max(datum.q1, datum.med-datum.nh)", "as": "nlo"},
                           {"calculate": "min(datum.q3, datum.med+datum.nh)", "as": "nhi"},
                           {"calculate": "[datum.q1, datum.nlo, datum.med, datum.nhi, datum.q3, datum.q3, datum.nhi, datum.med, datum.nlo, datum.q1, datum.q1, datum.nlo, datum.med, datum.med]", "as": "vy"},
                           {"calculate": "[0,1,2,3,4,5,6,7,8,9,10,11,12,13]", "as": "vi"},
                           {"flatten": ["vy", "vi"]},
                           {"calculate": "datum.m + 0.11*[-1,-1,-0.5,-1,-1,1,1,0.5,1,1,-1,-1,-0.5,0.5][datum.vi]", "as": "vx"}],
             "mark": {"type": "line", "color": "#ff0000", "strokeWidth": 1.6, "strokeJoin": "round"},
             "encoding": {
               "x": {"field": "vx", "type": "quantitative", "scale": {"domain": [1, 13], "nice": false, "zero": false}, "axis": null},
               "y": {"field": "vy", "type": "quantitative", "scale": {"domain": [0, 0.845], "nice": false, "zero": false}, "axis": null},
               "detail": {"field": "m", "type": "nominal"},
               "order": {"field": "vi", "type": "quantitative"}}},
            {"data": {"values": [{}]},
             "mark": {"type": "text", "text": "OBS, N=4", "align": "left", "baseline": "middle", "font": "DejaVu Sans", "fontWeight": "bold", "fontSize": 19.5, "color": "#111"},
             "encoding": {
               "x": {"datum": 1.33, "type": "quantitative", "scale": {"domain": [1, 13], "nice": false, "zero": false}, "axis": null},
               "y": {"datum": 0.8, "type": "quantitative", "scale": {"domain": [0, 0.845], "nice": false, "zero": false}, "axis": null}}},
            {"data": {"values": [{}]},
             "mark": {"type": "text", "text": "(LM3.0, Deciduous, N=16)", "align": "left", "baseline": "middle", "font": "DejaVu Sans", "fontWeight": "bold", "fontSize": 19.5, "color": "#ff0000"},
             "encoding": {
               "x": {"datum": 4.5, "type": "quantitative", "scale": {"domain": [1, 13], "nice": false, "zero": false}, "axis": null},
               "y": {"datum": 0.8, "type": "quantitative", "scale": {"domain": [0, 0.845], "nice": false, "zero": false}, "axis": null}}}
          ],
          "resolve": {"axis": {"x": "independent", "y": "independent"}}
        },
        {
          "width": 443, "height": 279,
          "data": {"name": "boxes"},
          "layer": [
            {"transform": [{"filter": "datum.site=='A' && datum.s=='OBS'"}],
             "mark": {"type": "rule", "color": "#000", "strokeWidth": 4},
             "encoding": {
               "x": {"field": "m", "type": "quantitative", "scale": {"domain": [1, 13], "nice": false, "zero": false},
                     "axis": {"orient": "bottom", "values": [1,2,3,4,5,6,7,8,9,10,11,12], "tickSize": -9, "tickWidth": 1.5, "tickColor": "#222", "domain": false, "grid": false, "labelExpr": "['J','F','M','A','M','J','J','A','S','O','N','D'][datum.value-1]", "labelOffset": 18.5, "labelPadding": 19, "labelFlush": false, "labelBound": false, "labelOverlap": false, "labelFontSize": 25, "labelFont": "DejaVu Sans", "labelColor": "#111", "title": null}},
               "y": {"field": "lo", "type": "quantitative", "scale": {"domain": [0, 0.845], "nice": false, "zero": false},
                     "axis": {"orient": "left", "values": [0,0.1,0.2,0.3,0.4,0.5,0.6,0.7,0.8], "tickSize": -9, "tickWidth": 1.5, "tickColor": "#222", "domain": false, "grid": false, "labelExpr": "round(datum.value*10)%2==0 ? format(datum.value,'.1f') : ''", "labelOverlap": false, "labelFlush": false, "labelPadding": 19, "labelFontSize": 25, "labelFont": "DejaVu Sans", "labelColor": "#111", "title": null}},
               "y2": {"field": "q1"}}},
            {"transform": [{"filter": "datum.site=='A' && datum.s=='OBS'"}],
             "mark": {"type": "rule", "color": "#000", "strokeWidth": 4},
             "encoding": {
               "x": {"field": "m", "type": "quantitative", "scale": {"domain": [1, 13], "nice": false, "zero": false}, "axis": null},
               "y": {"field": "q3", "type": "quantitative", "scale": {"domain": [0, 0.845], "nice": false, "zero": false},
                     "axis": {"orient": "right", "values": [0,0.1,0.2,0.3,0.4,0.5,0.6,0.7,0.8], "tickSize": -9, "tickWidth": 1.5, "tickColor": "#222", "domain": false, "grid": false, "labels": false, "title": null}},
               "y2": {"field": "hi"}}},
            {"transform": [{"filter": "datum.site=='A' && datum.s=='OBS'"}, {"fold": ["lo", "hi"], "as": ["end", "cap"]}],
             "mark": {"type": "tick", "orient": "horizontal", "color": "#000", "size": 14, "thickness": 4},
             "encoding": {
               "x": {"field": "m", "type": "quantitative", "scale": {"domain": [1, 13], "nice": false, "zero": false}, "axis": null},
               "y": {"field": "cap", "type": "quantitative", "scale": {"domain": [0, 0.845], "nice": false, "zero": false}, "axis": null}}},
            {"transform": [{"filter": "datum.site=='A' && datum.s=='OBS'"},
                           {"calculate": "1.57*(datum.q3-datum.q1)/sqrt(datum.n)", "as": "nh"},
                           {"calculate": "max(datum.q1, datum.med-datum.nh)", "as": "nlo"},
                           {"calculate": "min(datum.q3, datum.med+datum.nh)", "as": "nhi"},
                           {"calculate": "[datum.q1, datum.nlo, datum.med, datum.nhi, datum.q3, datum.q3, datum.nhi, datum.med, datum.nlo, datum.q1, datum.q1, datum.nlo, datum.med, datum.med]", "as": "vy"},
                           {"calculate": "[0,1,2,3,4,5,6,7,8,9,10,11,12,13]", "as": "vi"},
                           {"flatten": ["vy", "vi"]},
                           {"calculate": "datum.m + 0.14*[-1,-1,-0.5,-1,-1,1,1,0.5,1,1,-1,-1,-0.5,0.5][datum.vi]", "as": "vx"}],
             "mark": {"type": "line", "color": "#000", "strokeWidth": 4, "strokeJoin": "round"},
             "encoding": {
               "x": {"field": "vx", "type": "quantitative", "scale": {"domain": [1, 13], "nice": false, "zero": false}, "axis": null},
               "y": {"field": "vy", "type": "quantitative", "scale": {"domain": [0, 0.845], "nice": false, "zero": false}, "axis": null},
               "detail": {"field": "m", "type": "nominal"},
               "order": {"field": "vi", "type": "quantitative"}}},
            {"transform": [{"filter": "datum.site=='A' && datum.s=='LM4.0'"}],
             "mark": {"type": "rule", "color": "#ff0000", "strokeWidth": 1.5},
             "encoding": {
               "x": {"field": "m", "type": "quantitative", "scale": {"domain": [1, 13], "nice": false, "zero": false}, "axis": null},
               "y": {"field": "lo", "type": "quantitative", "scale": {"domain": [0, 0.845], "nice": false, "zero": false}, "axis": null},
               "y2": {"field": "q1"}}},
            {"transform": [{"filter": "datum.site=='A' && datum.s=='LM4.0'"}],
             "mark": {"type": "rule", "color": "#ff0000", "strokeWidth": 1.5},
             "encoding": {
               "x": {"field": "m", "type": "quantitative", "scale": {"domain": [1, 13], "nice": false, "zero": false}, "axis": null},
               "y": {"field": "q3", "type": "quantitative", "scale": {"domain": [0, 0.845], "nice": false, "zero": false}, "axis": null},
               "y2": {"field": "hi"}}},
            {"transform": [{"filter": "datum.site=='A' && datum.s=='LM4.0'"}, {"fold": ["lo", "hi"], "as": ["end", "cap"]}],
             "mark": {"type": "tick", "orient": "horizontal", "color": "#ff0000", "size": 11, "thickness": 1.5},
             "encoding": {
               "x": {"field": "m", "type": "quantitative", "scale": {"domain": [1, 13], "nice": false, "zero": false}, "axis": null},
               "y": {"field": "cap", "type": "quantitative", "scale": {"domain": [0, 0.845], "nice": false, "zero": false}, "axis": null}}},
            {"transform": [{"filter": "datum.site=='A' && datum.s=='LM4.0'"},
                           {"calculate": "1.57*(datum.q3-datum.q1)/sqrt(datum.n)", "as": "nh"},
                           {"calculate": "max(datum.q1, datum.med-datum.nh)", "as": "nlo"},
                           {"calculate": "min(datum.q3, datum.med+datum.nh)", "as": "nhi"},
                           {"calculate": "[datum.q1, datum.nlo, datum.med, datum.nhi, datum.q3, datum.q3, datum.nhi, datum.med, datum.nlo, datum.q1, datum.q1, datum.nlo, datum.med, datum.med]", "as": "vy"},
                           {"calculate": "[0,1,2,3,4,5,6,7,8,9,10,11,12,13]", "as": "vi"},
                           {"flatten": ["vy", "vi"]},
                           {"calculate": "datum.m + 0.11*[-1,-1,-0.5,-1,-1,1,1,0.5,1,1,-1,-1,-0.5,0.5][datum.vi]", "as": "vx"}],
             "mark": {"type": "line", "color": "#ff0000", "strokeWidth": 1.6, "strokeJoin": "round"},
             "encoding": {
               "x": {"field": "vx", "type": "quantitative", "scale": {"domain": [1, 13], "nice": false, "zero": false}, "axis": null},
               "y": {"field": "vy", "type": "quantitative", "scale": {"domain": [0, 0.845], "nice": false, "zero": false}, "axis": null},
               "detail": {"field": "m", "type": "nominal"},
               "order": {"field": "vi", "type": "quantitative"}}},
            {"data": {"values": [{}]},
             "mark": {"type": "text", "text": "OBS, N=4", "align": "left", "baseline": "middle", "font": "DejaVu Sans", "fontWeight": "bold", "fontSize": 19.5, "color": "#111"},
             "encoding": {
               "x": {"datum": 1.41, "type": "quantitative", "scale": {"domain": [1, 13], "nice": false, "zero": false}, "axis": null},
               "y": {"datum": 0.8, "type": "quantitative", "scale": {"domain": [0, 0.845], "nice": false, "zero": false}, "axis": null}}},
            {"data": {"values": [{}]},
             "mark": {"type": "text", "text": "(LM4.0, Coniferous, N=16)", "align": "left", "baseline": "middle", "font": "DejaVu Sans", "fontWeight": "bold", "fontSize": 19.5, "color": "#ff0000"},
             "encoding": {
               "x": {"datum": 4.52, "type": "quantitative", "scale": {"domain": [1, 13], "nice": false, "zero": false}, "axis": null},
               "y": {"datum": 0.8, "type": "quantitative", "scale": {"domain": [0, 0.845], "nice": false, "zero": false}, "axis": null}}}
          ],
          "resolve": {"axis": {"x": "independent", "y": "independent"}}
        }
      ]
    },
    {
      "title": {"text": "Ulborg, Denmark (56.3N, Coniferous)", "offset": 3},
      "spacing": 31,
      "hconcat": [
        {
          "width": 443, "height": 279,
          "data": {"name": "boxes"},
          "layer": [
            {"transform": [{"filter": "datum.site=='U' && datum.s=='OBS'"}],
             "mark": {"type": "rule", "color": "#000", "strokeWidth": 4},
             "encoding": {
               "x": {"field": "m", "type": "quantitative", "scale": {"domain": [1, 13], "nice": false, "zero": false},
                     "axis": {"orient": "bottom", "values": [1,2,3,4,5,6,7,8,9,10,11,12], "tickSize": -9, "tickWidth": 1.5, "tickColor": "#222", "domain": false, "grid": false, "labelExpr": "['J','F','M','A','M','J','J','A','S','O','N','D'][datum.value-1]", "labelOffset": 18.5, "labelPadding": 19, "labelFlush": false, "labelBound": false, "labelOverlap": false, "labelFontSize": 25, "labelFont": "DejaVu Sans", "labelColor": "#111", "title": null}},
               "y": {"field": "lo", "type": "quantitative", "scale": {"domain": [0, 1.245], "nice": false, "zero": false},
                     "axis": {"orient": "left", "values": [0,0.1,0.2,0.3,0.4,0.5,0.6,0.7,0.8,0.9,1.0,1.1,1.2], "tickSize": -9, "tickWidth": 1.5, "tickColor": "#222", "domain": false, "grid": false, "labelExpr": "round(datum.value*10)%2==0 ? format(datum.value,'.1f') : ''", "labelOverlap": false, "labelFlush": false, "labelPadding": 19, "labelFontSize": 25, "labelFont": "DejaVu Sans", "labelColor": "#111", "title": "Vd,O3 (cm s⁻¹)", "titleFont": "DejaVu Sans", "titleFontSize": 24, "titleFontWeight": "normal", "titleColor": "#111", "titlePadding": 20}},
               "y2": {"field": "q1"}}},
            {"transform": [{"filter": "datum.site=='U' && datum.s=='OBS'"}],
             "mark": {"type": "rule", "color": "#000", "strokeWidth": 4},
             "encoding": {
               "x": {"field": "m", "type": "quantitative", "scale": {"domain": [1, 13], "nice": false, "zero": false},
                     "axis": {"orient": "top", "values": [1,2,3,4,5,6,7,8,9,10,11,12], "tickSize": -9, "tickWidth": 1.5, "tickColor": "#222", "domain": false, "grid": false, "labels": false, "title": null}},
               "y": {"field": "q3", "type": "quantitative", "scale": {"domain": [0, 1.245], "nice": false, "zero": false},
                     "axis": {"orient": "right", "values": [0,0.1,0.2,0.3,0.4,0.5,0.6,0.7,0.8,0.9,1.0,1.1,1.2], "tickSize": -9, "tickWidth": 1.5, "tickColor": "#222", "domain": false, "grid": false, "labels": false, "title": null}},
               "y2": {"field": "hi"}}},
            {"transform": [{"filter": "datum.site=='U' && datum.s=='OBS'"}, {"fold": ["lo", "hi"], "as": ["end", "cap"]}],
             "mark": {"type": "tick", "orient": "horizontal", "color": "#000", "size": 14, "thickness": 4},
             "encoding": {
               "x": {"field": "m", "type": "quantitative", "scale": {"domain": [1, 13], "nice": false, "zero": false}, "axis": null},
               "y": {"field": "cap", "type": "quantitative", "scale": {"domain": [0, 1.245], "nice": false, "zero": false}, "axis": null}}},
            {"transform": [{"filter": "datum.site=='U' && datum.s=='OBS'"},
                           {"calculate": "1.57*(datum.q3-datum.q1)/sqrt(datum.n)", "as": "nh"},
                           {"calculate": "max(datum.q1, datum.med-datum.nh)", "as": "nlo"},
                           {"calculate": "min(datum.q3, datum.med+datum.nh)", "as": "nhi"},
                           {"calculate": "[datum.q1, datum.nlo, datum.med, datum.nhi, datum.q3, datum.q3, datum.nhi, datum.med, datum.nlo, datum.q1, datum.q1, datum.nlo, datum.med, datum.med]", "as": "vy"},
                           {"calculate": "[0,1,2,3,4,5,6,7,8,9,10,11,12,13]", "as": "vi"},
                           {"flatten": ["vy", "vi"]},
                           {"calculate": "datum.m + 0.14*[-1,-1,-0.5,-1,-1,1,1,0.5,1,1,-1,-1,-0.5,0.5][datum.vi]", "as": "vx"}],
             "mark": {"type": "line", "color": "#000", "strokeWidth": 4, "strokeJoin": "round"},
             "encoding": {
               "x": {"field": "vx", "type": "quantitative", "scale": {"domain": [1, 13], "nice": false, "zero": false}, "axis": null},
               "y": {"field": "vy", "type": "quantitative", "scale": {"domain": [0, 1.245], "nice": false, "zero": false}, "axis": null},
               "detail": {"field": "m", "type": "nominal"},
               "order": {"field": "vi", "type": "quantitative"}}},
            {"transform": [{"filter": "datum.site=='U' && datum.s=='LM3.0'"}],
             "mark": {"type": "rule", "color": "#ff0000", "strokeWidth": 1.5},
             "encoding": {
               "x": {"field": "m", "type": "quantitative", "scale": {"domain": [1, 13], "nice": false, "zero": false}, "axis": null},
               "y": {"field": "lo", "type": "quantitative", "scale": {"domain": [0, 1.245], "nice": false, "zero": false}, "axis": null},
               "y2": {"field": "q1"}}},
            {"transform": [{"filter": "datum.site=='U' && datum.s=='LM3.0'"}],
             "mark": {"type": "rule", "color": "#ff0000", "strokeWidth": 1.5},
             "encoding": {
               "x": {"field": "m", "type": "quantitative", "scale": {"domain": [1, 13], "nice": false, "zero": false}, "axis": null},
               "y": {"field": "q3", "type": "quantitative", "scale": {"domain": [0, 1.245], "nice": false, "zero": false}, "axis": null},
               "y2": {"field": "hi"}}},
            {"transform": [{"filter": "datum.site=='U' && datum.s=='LM3.0'"}, {"fold": ["lo", "hi"], "as": ["end", "cap"]}],
             "mark": {"type": "tick", "orient": "horizontal", "color": "#ff0000", "size": 11, "thickness": 1.5},
             "encoding": {
               "x": {"field": "m", "type": "quantitative", "scale": {"domain": [1, 13], "nice": false, "zero": false}, "axis": null},
               "y": {"field": "cap", "type": "quantitative", "scale": {"domain": [0, 1.245], "nice": false, "zero": false}, "axis": null}}},
            {"transform": [{"filter": "datum.site=='U' && datum.s=='LM3.0'"},
                           {"calculate": "1.57*(datum.q3-datum.q1)/sqrt(datum.n)", "as": "nh"},
                           {"calculate": "max(datum.q1, datum.med-datum.nh)", "as": "nlo"},
                           {"calculate": "min(datum.q3, datum.med+datum.nh)", "as": "nhi"},
                           {"calculate": "[datum.q1, datum.nlo, datum.med, datum.nhi, datum.q3, datum.q3, datum.nhi, datum.med, datum.nlo, datum.q1, datum.q1, datum.nlo, datum.med, datum.med]", "as": "vy"},
                           {"calculate": "[0,1,2,3,4,5,6,7,8,9,10,11,12,13]", "as": "vi"},
                           {"flatten": ["vy", "vi"]},
                           {"calculate": "datum.m + 0.11*[-1,-1,-0.5,-1,-1,1,1,0.5,1,1,-1,-1,-0.5,0.5][datum.vi]", "as": "vx"}],
             "mark": {"type": "line", "color": "#ff0000", "strokeWidth": 1.6, "strokeJoin": "round"},
             "encoding": {
               "x": {"field": "vx", "type": "quantitative", "scale": {"domain": [1, 13], "nice": false, "zero": false}, "axis": null},
               "y": {"field": "vy", "type": "quantitative", "scale": {"domain": [0, 1.245], "nice": false, "zero": false}, "axis": null},
               "detail": {"field": "m", "type": "nominal"},
               "order": {"field": "vi", "type": "quantitative"}}},
            {"data": {"values": [{}]},
             "mark": {"type": "text", "text": "OBS, N=5", "align": "left", "baseline": "middle", "font": "DejaVu Sans", "fontWeight": "bold", "fontSize": 19.5, "color": "#111"},
             "encoding": {
               "x": {"datum": 1.38, "type": "quantitative", "scale": {"domain": [1, 13], "nice": false, "zero": false}, "axis": null},
               "y": {"datum": 1.142, "type": "quantitative", "scale": {"domain": [0, 1.245], "nice": false, "zero": false}, "axis": null}}},
            {"data": {"values": [{}]},
             "mark": {"type": "text", "text": "(LM3.0, Deciduous, N=16)", "align": "left", "baseline": "middle", "font": "DejaVu Sans", "fontWeight": "bold", "fontSize": 19.5, "color": "#ff0000"},
             "encoding": {
               "x": {"datum": 4.5, "type": "quantitative", "scale": {"domain": [1, 13], "nice": false, "zero": false}, "axis": null},
               "y": {"datum": 1.142, "type": "quantitative", "scale": {"domain": [0, 1.245], "nice": false, "zero": false}, "axis": null}}}
          ],
          "resolve": {"axis": {"x": "independent", "y": "independent"}}
        },
        {
          "width": 443, "height": 279,
          "data": {"name": "boxes"},
          "layer": [
            {"transform": [{"filter": "datum.site=='U' && datum.s=='OBS'"}],
             "mark": {"type": "rule", "color": "#000", "strokeWidth": 4},
             "encoding": {
               "x": {"field": "m", "type": "quantitative", "scale": {"domain": [1, 13], "nice": false, "zero": false},
                     "axis": {"orient": "bottom", "values": [1,2,3,4,5,6,7,8,9,10,11,12], "tickSize": -9, "tickWidth": 1.5, "tickColor": "#222", "domain": false, "grid": false, "labelExpr": "['J','F','M','A','M','J','J','A','S','O','N','D'][datum.value-1]", "labelOffset": 18.5, "labelPadding": 19, "labelFlush": false, "labelBound": false, "labelOverlap": false, "labelFontSize": 25, "labelFont": "DejaVu Sans", "labelColor": "#111", "title": null}},
               "y": {"field": "lo", "type": "quantitative", "scale": {"domain": [0, 1.245], "nice": false, "zero": false},
                     "axis": {"orient": "left", "values": [0,0.1,0.2,0.3,0.4,0.5,0.6,0.7,0.8,0.9,1.0,1.1,1.2], "tickSize": -9, "tickWidth": 1.5, "tickColor": "#222", "domain": false, "grid": false, "labelExpr": "round(datum.value*10)%2==0 ? format(datum.value,'.1f') : ''", "labelOverlap": false, "labelFlush": false, "labelPadding": 19, "labelFontSize": 25, "labelFont": "DejaVu Sans", "labelColor": "#111", "title": null}},
               "y2": {"field": "q1"}}},
            {"transform": [{"filter": "datum.site=='U' && datum.s=='OBS'"}],
             "mark": {"type": "rule", "color": "#000", "strokeWidth": 4},
             "encoding": {
               "x": {"field": "m", "type": "quantitative", "scale": {"domain": [1, 13], "nice": false, "zero": false},
                     "axis": {"orient": "top", "values": [1,2,3,4,5,6,7,8,9,10,11,12], "tickSize": -9, "tickWidth": 1.5, "tickColor": "#222", "domain": false, "grid": false, "labels": false, "title": null}},
               "y": {"field": "q3", "type": "quantitative", "scale": {"domain": [0, 1.245], "nice": false, "zero": false},
                     "axis": {"orient": "right", "values": [0,0.1,0.2,0.3,0.4,0.5,0.6,0.7,0.8,0.9,1.0,1.1,1.2], "tickSize": -9, "tickWidth": 1.5, "tickColor": "#222", "domain": false, "grid": false, "labels": false, "title": null}},
               "y2": {"field": "hi"}}},
            {"transform": [{"filter": "datum.site=='U' && datum.s=='OBS'"}, {"fold": ["lo", "hi"], "as": ["end", "cap"]}],
             "mark": {"type": "tick", "orient": "horizontal", "color": "#000", "size": 14, "thickness": 4},
             "encoding": {
               "x": {"field": "m", "type": "quantitative", "scale": {"domain": [1, 13], "nice": false, "zero": false}, "axis": null},
               "y": {"field": "cap", "type": "quantitative", "scale": {"domain": [0, 1.245], "nice": false, "zero": false}, "axis": null}}},
            {"transform": [{"filter": "datum.site=='U' && datum.s=='OBS'"},
                           {"calculate": "1.57*(datum.q3-datum.q1)/sqrt(datum.n)", "as": "nh"},
                           {"calculate": "max(datum.q1, datum.med-datum.nh)", "as": "nlo"},
                           {"calculate": "min(datum.q3, datum.med+datum.nh)", "as": "nhi"},
                           {"calculate": "[datum.q1, datum.nlo, datum.med, datum.nhi, datum.q3, datum.q3, datum.nhi, datum.med, datum.nlo, datum.q1, datum.q1, datum.nlo, datum.med, datum.med]", "as": "vy"},
                           {"calculate": "[0,1,2,3,4,5,6,7,8,9,10,11,12,13]", "as": "vi"},
                           {"flatten": ["vy", "vi"]},
                           {"calculate": "datum.m + 0.14*[-1,-1,-0.5,-1,-1,1,1,0.5,1,1,-1,-1,-0.5,0.5][datum.vi]", "as": "vx"}],
             "mark": {"type": "line", "color": "#000", "strokeWidth": 4, "strokeJoin": "round"},
             "encoding": {
               "x": {"field": "vx", "type": "quantitative", "scale": {"domain": [1, 13], "nice": false, "zero": false}, "axis": null},
               "y": {"field": "vy", "type": "quantitative", "scale": {"domain": [0, 1.245], "nice": false, "zero": false}, "axis": null},
               "detail": {"field": "m", "type": "nominal"},
               "order": {"field": "vi", "type": "quantitative"}}},
            {"transform": [{"filter": "datum.site=='U' && datum.s=='LM4.0'"}],
             "mark": {"type": "rule", "color": "#ff0000", "strokeWidth": 1.5},
             "encoding": {
               "x": {"field": "m", "type": "quantitative", "scale": {"domain": [1, 13], "nice": false, "zero": false}, "axis": null},
               "y": {"field": "lo", "type": "quantitative", "scale": {"domain": [0, 1.245], "nice": false, "zero": false}, "axis": null},
               "y2": {"field": "q1"}}},
            {"transform": [{"filter": "datum.site=='U' && datum.s=='LM4.0'"}],
             "mark": {"type": "rule", "color": "#ff0000", "strokeWidth": 1.5},
             "encoding": {
               "x": {"field": "m", "type": "quantitative", "scale": {"domain": [1, 13], "nice": false, "zero": false}, "axis": null},
               "y": {"field": "q3", "type": "quantitative", "scale": {"domain": [0, 1.245], "nice": false, "zero": false}, "axis": null},
               "y2": {"field": "hi"}}},
            {"transform": [{"filter": "datum.site=='U' && datum.s=='LM4.0'"}, {"fold": ["lo", "hi"], "as": ["end", "cap"]}],
             "mark": {"type": "tick", "orient": "horizontal", "color": "#ff0000", "size": 11, "thickness": 1.5},
             "encoding": {
               "x": {"field": "m", "type": "quantitative", "scale": {"domain": [1, 13], "nice": false, "zero": false}, "axis": null},
               "y": {"field": "cap", "type": "quantitative", "scale": {"domain": [0, 1.245], "nice": false, "zero": false}, "axis": null}}},
            {"transform": [{"filter": "datum.site=='U' && datum.s=='LM4.0'"},
                           {"calculate": "1.57*(datum.q3-datum.q1)/sqrt(datum.n)", "as": "nh"},
                           {"calculate": "max(datum.q1, datum.med-datum.nh)", "as": "nlo"},
                           {"calculate": "min(datum.q3, datum.med+datum.nh)", "as": "nhi"},
                           {"calculate": "[datum.q1, datum.nlo, datum.med, datum.nhi, datum.q3, datum.q3, datum.nhi, datum.med, datum.nlo, datum.q1, datum.q1, datum.nlo, datum.med, datum.med]", "as": "vy"},
                           {"calculate": "[0,1,2,3,4,5,6,7,8,9,10,11,12,13]", "as": "vi"},
                           {"flatten": ["vy", "vi"]},
                           {"calculate": "datum.m + 0.11*[-1,-1,-0.5,-1,-1,1,1,0.5,1,1,-1,-1,-0.5,0.5][datum.vi]", "as": "vx"}],
             "mark": {"type": "line", "color": "#ff0000", "strokeWidth": 1.6, "strokeJoin": "round"},
             "encoding": {
               "x": {"field": "vx", "type": "quantitative", "scale": {"domain": [1, 13], "nice": false, "zero": false}, "axis": null},
               "y": {"field": "vy", "type": "quantitative", "scale": {"domain": [0, 1.245], "nice": false, "zero": false}, "axis": null},
               "detail": {"field": "m", "type": "nominal"},
               "order": {"field": "vi", "type": "quantitative"}}},
            {"data": {"values": [{}]},
             "mark": {"type": "text", "text": "OBS, N=5", "align": "left", "baseline": "middle", "font": "DejaVu Sans", "fontWeight": "bold", "fontSize": 19.5, "color": "#111"},
             "encoding": {
               "x": {"datum": 1.38, "type": "quantitative", "scale": {"domain": [1, 13], "nice": false, "zero": false}, "axis": null},
               "y": {"datum": 1.142, "type": "quantitative", "scale": {"domain": [0, 1.245], "nice": false, "zero": false}, "axis": null}}},
            {"data": {"values": [{}]},
             "mark": {"type": "text", "text": "(LM4.0, Coniferous, N=16)", "align": "left", "baseline": "middle", "font": "DejaVu Sans", "fontWeight": "bold", "fontSize": 19.5, "color": "#ff0000"},
             "encoding": {
               "x": {"datum": 4.47, "type": "quantitative", "scale": {"domain": [1, 13], "nice": false, "zero": false}, "axis": null},
               "y": {"datum": 1.142, "type": "quantitative", "scale": {"domain": [0, 1.245], "nice": false, "zero": false}, "axis": null}}}
          ],
          "resolve": {"axis": {"x": "independent", "y": "independent"}}
        }
      ]
    }
  ]
}
